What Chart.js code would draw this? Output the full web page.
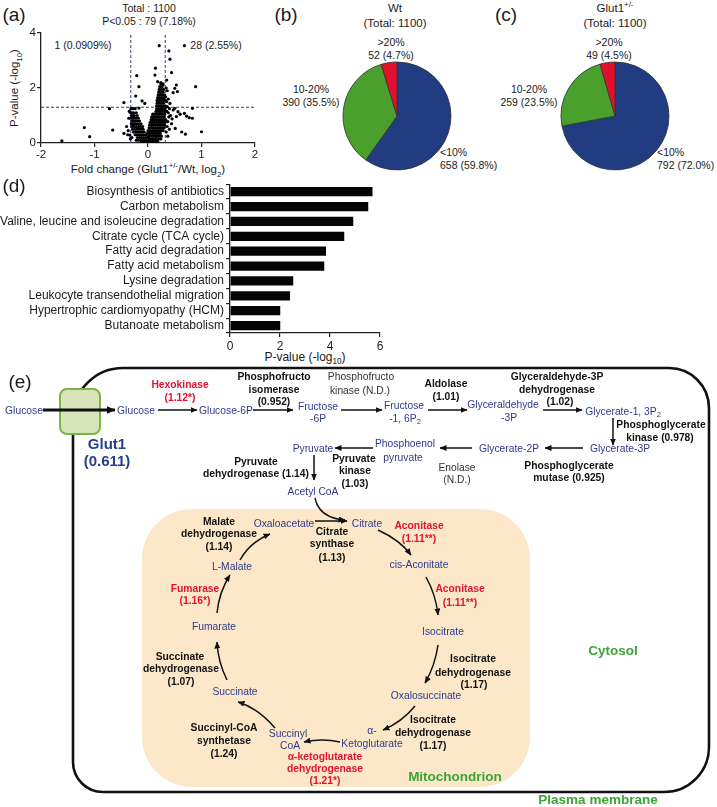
<!DOCTYPE html>
<html>
<head>
<meta charset="utf-8">
<title>Glut1 proteome</title>
<script src="https://cdn.jsdelivr.net/npm/chart.js@4.4.1/dist/chart.umd.min.js"></script>
<style>
  html,body{margin:0;padding:0;background:#fff}
  body{position:relative;width:717px;height:807px;overflow:hidden;font-family:'Liberation Sans',Arial,Helvetica,sans-serif;color:#1b1b1b}
  canvas{position:absolute}
  .t{position:absolute;white-space:nowrap;transform:translate(-50%,-50%);font-size:10.5px;line-height:1}
  .t.l{transform:translate(0,-50%)}
  .panel{font-size:19px}
  .ttl{font-size:11.5px}
  sub,sup{font-size:68%;line-height:0}
  #diagram{position:absolute;left:0;top:0}
  #diagram text{font-family:'Liberation Sans',Arial,Helvetica,sans-serif;font-size:10.3px;text-anchor:middle;dominant-baseline:central}
  #diagram .m{fill:#2e3a8f}
  #diagram .e{fill:#111;font-weight:bold}
  #diagram .r{fill:#e3132f;font-weight:bold}
  #diagram .n{fill:#333}
  #diagram .g{fill:#253f8e;font-weight:bold;font-size:15px}
  #diagram .c{fill:#3aa537;font-weight:bold;font-size:13.5px}
</style>
</head>
<body>
<!-- (a) volcano -->
<div class="t panel" style="left:14px;top:14px">(a)</div>
<div class="t" style="left:149px;top:8px">Total : 1100</div>
<div class="t" style="left:149px;top:21px">P&lt;0.05 : 79 (7.18%)</div>
<div class="t" style="left:83px;top:45px">1 (0.0909%)</div>
<div class="t" style="left:216px;top:45px">28 (2.55%)</div>
<div class="t ttl" style="left:15px;top:88px;transform:translate(-50%,-50%) rotate(-90deg)">P-value (-log<sub>10</sub>)</div>
<div class="t ttl" style="left:148px;top:170px">Fold change (Glut1<sup>+/-</sup>/Wt, log<sub>2</sub>)</div>
<canvas id="volcano" width="265" height="180" style="left:0;top:0"></canvas>

<!-- (b) (c) pies -->
<div class="t panel" style="left:286px;top:14px">(b)</div>
<div class="t ttl" style="left:395px;top:9px">Wt</div>
<div class="t ttl" style="left:395px;top:24px">(Total: 1100)</div>
<div class="t panel" style="left:506px;top:14px">(c)</div>
<div class="t ttl" style="left:615px;top:9px">Glut1<sup>+/-</sup></div>
<div class="t ttl" style="left:615px;top:24px">(Total: 1100)</div>
<div id="pieLabels"></div>
<canvas id="pieWt" width="112" height="112" style="left:341px;top:60px"></canvas>
<canvas id="pieGlut" width="112" height="112" style="left:559px;top:60px"></canvas>

<!-- (d) pathways -->
<div class="t panel" style="left:14px;top:185px">(d)</div>
<div class="t" style="left:305px;top:357px;font-size:12px">P-value (-log<sub>10</sub>)</div>
<canvas id="pathwayBar" width="390" height="192" style="left:0;top:175px"></canvas>

<!-- (e) pathway diagram -->
<svg id="diagram" width="717" height="807" viewBox="0 0 717 807">
  <defs>
    <marker id="ah" markerUnits="userSpaceOnUse" markerWidth="7" markerHeight="6" refX="6.5" refY="3" orient="auto"><path d="M0,0 L7,3 L0,6 z" fill="#111"/></marker>
    <marker id="ahBig" markerUnits="userSpaceOnUse" markerWidth="9" markerHeight="8" refX="8.5" refY="4" orient="auto"><path d="M0,0 L9,4 L0,8 z" fill="#111"/></marker>
  </defs>
  <text x="20" y="381" style="font-size:19px;text-anchor:middle;fill:#1b1b1b">(e)</text>
  <rect x="142" y="509" width="388" height="278" rx="50" fill="#fce8c9"/>
  <path d="M123 368 H669 A40 40 0 0 1 709 408 V747 A45 45 0 0 1 664 792 H103 A30 30 0 0 1 73 762 V418 A50 50 0 0 1 123 368 Z" fill="none" stroke="#111" stroke-width="2.6"/>
  <rect x="60" y="389" width="40" height="45" rx="7" fill="#d6e4b8" stroke="#7db24b" stroke-width="2"/>
  <path d="M43 410 H115" stroke="#111" stroke-width="3" fill="none" marker-end="url(#ahBig)"/>
  <g fill="none" stroke="#111" stroke-width="1.5" marker-end="url(#ah)">
    <path d="M158 410 H197"/>
    <path d="M253 410 H293"/>
    <path d="M341 410 H382"/>
    <path d="M428 410 H467"/>
    <path d="M543 410 H582"/>
    <path d="M613 418 V445"/>
    <path d="M583 448 H545"/>
    <path d="M472 448 H440"/>
    <path d="M373 448 H335"/>
    <path d="M314 455 V480"/>
    <path d="M315 498 Q319 518 345 520"/>
    <path d="M315 521 H347"/>
    <path d="M240 560 Q250 542 270 534"/>
    <path d="M217 613 Q219 592 230 575"/>
    <path d="M227 680 Q218 662 217 642"/>
    <path d="M275 728 Q258 708 238 702"/>
    <path d="M340 742 Q322 738 304 742"/>
    <path d="M415 706 Q402 722 383 730"/>
    <path d="M438 645 Q435 666 425 683"/>
    <path d="M378 530 Q400 540 411 555"/>
    <path d="M426 577 Q436 595 438 615"/>
  </g>
  <g id="diagramText"></g>
</svg>

<script>
const $ = id => document.getElementById(id);

// (a) volcano: [fold change log2, -log10 p]
const volcanoPoints = [
  [-1.61,0.08],[-1.19,0.56],[-1.09,0.23],[-0.66,0.47],[-0.72,1.25],[-0.45,1.47],[-0.21,2.45],[-0.17,2.05],[-0.23,1.71],
  [0.21,3.54],[0.68,3.54],[0.39,3.35],[0.41,3.05],[0.14,2.72],[0.44,2.56],[0.89,2.05],[0.53,2.11],[0.83,1.26],[0.83,0.9],
  [1.0,0.41],[0.68,1.08],[0.72,0.98],[0.77,0.92],[0.51,0.53],[0.63,0.4],[0.7,0.32],[0.53,0.96],[0.47,1.2],[0.56,1.14],
  [0.47,1.83],[0.5,1.99],[0.55,1.87],[0.35,2.29],[0.28,2.11],[0.33,1.68],[0.41,1.44],[-0.34,0.29],[-0.45,0.35],[-0.28,0.62],
  [-0.17,1.27],[-0.11,1.53],[-0.06,1.44],[0.13,2.47],[0.18,2.23],[0.24,2.2],
  [0.36,1.32],[0.4,1.25],[0.38,1.1],[0.42,1.0],[0.45,0.88],[0.37,0.78],[0.5,1.26],[0.6,1.05],[0.36,0.6],[0.4,0.5],
  [0.35,1.5],[0.38,1.6],[0.36,1.9],[0.34,2.0],[0.39,0.95],[0.44,0.7],[0.34,0.4],[0.37,0.25],
  [-0.36,0.9],[-0.38,0.3],[-0.4,0.6],[-0.35,1.15],[-0.37,0.45],[-0.3,0.2],[-0.33,0.15],
  [-0.32,1.25],[-0.28,1.25],[-0.24,1.25],
  [-0.33,1.1],[-0.3,1.1],[-0.27,1.1],[-0.22,1.1],
  [-0.31,1.0],[-0.28,1.0],[-0.25,1.0],[-0.2,1.0],
  [-0.32,0.9],[-0.29,0.9],[-0.26,0.9],[-0.22,0.9],[-0.18,0.9],
  [-0.3,0.8],[-0.27,0.8],[-0.24,0.8],[-0.2,0.8],[-0.16,0.8],
  [-0.31,0.7],[-0.28,0.7],[-0.25,0.7],[-0.21,0.7],[-0.17,0.7],[-0.13,0.7],
  [-0.3,0.6],[-0.26,0.6],[-0.22,0.6],[-0.18,0.6],[-0.14,0.6],[-0.1,0.6],
  [-0.29,0.5],[-0.25,0.5],[-0.21,0.5],[-0.17,0.5],[-0.13,0.5],[-0.09,0.5],
  [-0.27,0.4],[-0.23,0.4],[-0.19,0.4],[-0.15,0.4],[-0.11,0.4],[-0.07,0.4],
  [-0.24,0.3],[-0.2,0.3],[-0.16,0.3],[-0.12,0.3],[-0.08,0.3],[-0.04,0.3],
  [-0.2,0.2],[-0.16,0.2],[-0.12,0.2],[-0.08,0.2],[-0.04,0.2],[0,0.2],
  [-0.14,0.1],[-0.1,0.1],[-0.06,0.1],[-0.02,0.1],[0.02,0.1],[-0.18,0.1],[-0.22,0.1],
  [-0.08,0.03],[-0.04,0.03],[0,0.03],[0.04,0.03],[-0.12,0.03],[0.08,0.03],
  [0.06,0.06],[0.1,0.06],[0.14,0.06],[0.18,0.06],
  [0.04,0.15],[0.08,0.15],[0.12,0.15],[0.16,0.15],[0.2,0.15],[0.24,0.15],
  [0.01,0.25],[0.05,0.25],[0.09,0.25],[0.13,0.25],[0.17,0.25],[0.21,0.25],[0.25,0.25],
  [-0.01,0.35],[0.03,0.35],[0.07,0.35],[0.11,0.35],[0.15,0.35],[0.19,0.35],[0.23,0.35],
  [0.0,0.45],[0.04,0.45],[0.08,0.45],[0.12,0.45],[0.16,0.45],[0.2,0.45],[0.24,0.45],[0.28,0.45],
  [0.02,0.55],[0.06,0.55],[0.1,0.55],[0.14,0.55],[0.18,0.55],[0.22,0.55],[0.26,0.55],[0.3,0.55],
  [0.03,0.65],[0.07,0.65],[0.11,0.65],[0.15,0.65],[0.19,0.65],[0.23,0.65],[0.27,0.65],[0.31,0.65],
  [0.04,0.75],[0.08,0.75],[0.12,0.75],[0.16,0.75],[0.2,0.75],[0.24,0.75],[0.28,0.75],[0.32,0.75],
  [0.06,0.85],[0.09,0.85],[0.13,0.85],[0.17,0.85],[0.21,0.85],[0.25,0.85],[0.29,0.85],[0.33,0.85],
  [0.07,0.95],[0.1,0.95],[0.14,0.95],[0.18,0.95],[0.22,0.95],[0.26,0.95],[0.3,0.95],
  [0.09,1.05],[0.12,1.05],[0.15,1.05],[0.19,1.05],[0.23,1.05],[0.27,1.05],[0.31,1.05],
  [0.15,1.15],[0.19,1.15],[0.23,1.15],[0.27,1.15],[0.31,1.15],[0.35,1.15],
  [0.16,1.25],[0.2,1.25],[0.24,1.25],[0.28,1.25],[0.32,1.25],
  [0.16,1.35],[0.2,1.35],[0.24,1.35],[0.28,1.35],[0.32,1.35],
  [0.17,1.45],[0.21,1.45],[0.25,1.45],[0.29,1.45],
  [0.17,1.55],[0.21,1.55],[0.25,1.55],[0.29,1.55],[0.33,1.55],
  [0.18,1.65],[0.22,1.65],[0.26,1.65],[0.3,1.65],
  [0.19,1.75],[0.23,1.75],[0.27,1.75],[0.31,1.75],
  [0.2,1.85],[0.24,1.85],[0.28,1.85],
  [0.21,1.95],[0.25,1.95],[0.29,1.95],
  [0.22,2.05],[0.26,2.05],
  [0.24,2.15],[0.28,2.15]
];
const foldCutoff = 0.322;   // 1.25-fold
const pCutoff = 1.3;        // P = 0.05
const foldTicks = [-2, 2];
const pTicks = [0, 4];

// (b)(c) variation groups
const pieGroups = ['<10%', '10-20%', '>20%'];
const pieColors = ['#213c80', '#4aa02c', '#e2102e'];
const wtCounts = [658, 390, 52];
const glutCounts = [792, 259, 49];
const proteinTotal = 1100;

// (d) KEGG pathways
const pathways = ['Biosynthesis of antibiotics','Carbon metabolism','Valine, leucine and isoleucine degradation',
  'Citrate cycle (TCA cycle)','Fatty acid degradation','Fatty acid metabolism','Lysine degradation',
  'Leukocyte transendothelial migration','Hypertrophic cardiomyopathy (HCM)','Butanoate metabolism'];
const pathwayScores = [5.7, 5.53, 4.93, 4.57, 3.84, 3.77, 2.53, 2.4, 2.01, 2.01];

// (e) labels: [x, y, text, kind]
const diagramLabels = [
  [24,410,'Glucose','m'],[136,410,'Glucose','m'],[226,410,'Glucose-6P','m'],
  [318,406,'Fructose','m'],[318,418,'-6P','m'],
  [404,405,'Fructose','m'],[405,418,'-1, 6P<tspan font-size="7.5" dy="2.5">2</tspan>','m'],
  [503,404,'Glyceraldehyde','m'],[509,417,'-3P','m'],
  [623,411,'Glycerate-1, 3P<tspan font-size="7.5" dy="2.5">2</tspan>','m'],
  [620,448,'Glycerate-3P','m'],[509,448,'Glycerate-2P','m'],
  [405,443,'Phosphoenol','m'],[403,457,'pyruvate','m'],
  [313,448,'Pyruvate','m'],[313,491,'Acetyl CoA','m'],
  [284,523,'Oxaloacetate','m'],[367,523,'Citrate','m'],[232,566,'L-Malate','m'],
  [419,564,'cis-Aconitate','m'],[443,631,'Isocitrate','m'],[214,626,'Fumarate','m'],
  [426,695,'Oxalosuccinate','m'],[235,691,'Succinate','m'],
  [288,733,'Succinyl','m'],[290,745,'CoA','m'],[372,730,'α-','m'],[372,743,'Ketoglutarate','m'],
  [274,376,'Phosphofructo','e'],[274,389,'isomerase','e'],[274,401,'(0.952)','e'],
  [446,383,'Aldolase','e'],[446,396,'(1.01)','e'],
  [557,376,'Glyceraldehyde-3P','e'],[557,389,'dehydrogenase','e'],[560,401,'(1.02)','e'],
  [661,424,'Phosphoglycerate','e'],[660,437,'kinase (0.978)','e'],
  [569,465,'Phosphoglycerate','e'],[569,477,'mutase (0.925)','e'],
  [354,458,'Pyruvate','e'],[355,470,'kinase','e'],[355,483,'(1.03)','e'],
  [256,461,'Pyruvate','e'],[256,473,'dehydrogenase (1.14)','e'],
  [219,521,'Malate','e'],[219,533,'dehydrogenase','e'],[219,546,'(1.14)','e'],
  [332,531,'Citrate','e'],[332,543,'synthase','e'],[332,557,'(1.13)','e'],
  [180,656,'Succinate','e'],[181,668,'dehydrogenase','e'],[181,681,'(1.07)','e'],
  [224,727,'Succinyl-CoA','e'],[224,740,'synthetase','e'],[224,753,'(1.24)','e'],
  [473,658,'Isocitrate','e'],[473,672,'dehydrogenase','e'],[474,684,'(1.17)','e'],
  [433,719,'Isocitrate','e'],[433,732,'dehydrogenase','e'],[433,745,'(1.17)','e'],
  [180,384,'Hexokinase','r'],[180,397,'(1.12*)','r'],
  [419,525,'Aconitase','r'],[419,538,'(1.11**)','r'],
  [460,588,'Aconitase','r'],[460,602,'(1.11**)','r'],
  [195,588,'Fumarase','r'],[195,600,'(1.16*)','r'],
  [325,756,'α-ketoglutarate','r'],[325,768,'dehydrogenase','r'],[325,780,'(1.21*)','r'],
  [361,376,'Phosphofructo','n'],[360,390,'kinase (N.D.)','n'],
  [457,467,'Enolase','n'],[457,479,'(N.D.)','n'],
  [107,443,'Glut1','g'],[107,460,'(0.611)','g'],
  [613,650,'Cytosol','c'],[455,776,'Mitochondrion','c'],[598,799,'Plasma membrane','c']
];

Chart.defaults.font.family = "'Liberation Sans', Arial, Helvetica, sans-serif";
Chart.defaults.color = '#1b1b1b';

const axisGrid = {drawOnChartArea:false, drawTicks:true, tickLength:4, color:'#222', lineWidth:1.2};
const axisBorder = {color:'#222', width:1.3};
const dash = {type:'line', showLine:true, pointRadius:0, borderColor:'#2e3a8f', borderWidth:1, borderDash:[3,2], order:2};

new Chart($('volcano'), {
  type:'scatter',
  data:{datasets:[
    {data:volcanoPoints.map(([x, y]) => ({x, y})), pointRadius:1.6, pointBorderWidth:0, pointBackgroundColor:'#000', order:0},
    {...dash, data:[{x:-foldCutoff, y:pTicks[0]}, {x:-foldCutoff, y:pTicks[1]}]},
    {...dash, data:[{x:foldCutoff, y:pTicks[0]}, {x:foldCutoff, y:pTicks[1]}]},
    {...dash, data:[{x:foldTicks[0], y:pCutoff}, {x:foldTicks[1], y:pCutoff}]}
  ]},
  options:{
    responsive:false, animation:false,
    layout:{padding:{top:33, right:10, left:0, bottom:0}},
    plugins:{legend:{display:false}, tooltip:{enabled:false}},
    scales:{
      x:{type:'linear', min:foldTicks[0], max:foldTicks[1], ticks:{stepSize:1, padding:1, font:{size:11.5}},
         grid:axisGrid, border:axisBorder, afterFit:s => { s.height = 37; }},
      y:{min:pTicks[0], max:pTicks[1], ticks:{stepSize:2, padding:1, font:{size:11.5}},
         grid:axisGrid, border:axisBorder, afterFit:s => { s.width = 41; }}
    }
  }
});

function pie(id, counts) {
  new Chart($(id), {
    type:'pie',
    data:{labels:pieGroups, datasets:[{data:counts, backgroundColor:pieColors, borderColor:'#333', borderWidth:0.8, hoverOffset:0}]},
    options:{responsive:false, animation:false, radius:54,
      plugins:{legend:{display:false}, tooltip:{enabled:false}}}
  });
}
pie('pieWt', wtCounts);
pie('pieGlut', glutCounts);

// pie labels: [x, y, left-aligned?] for <10%, 10-20%, >20%
const pieLabelSpots = {pieWt:[[440,152,true],[311,89,false],[391,42,false]], pieGlut:[[657,152,true],[529,89,false],[609,42,false]]};
const pct = n => `${n} (${(n / proteinTotal * 100).toFixed(1)}%)`;
[['pieWt', wtCounts], ['pieGlut', glutCounts]].forEach(([id, counts]) => {
  pieLabelSpots[id].forEach(([x, y, left], i) => {
    [pieGroups[i], pct(counts[i])].forEach((txt, k) => {
      const d = document.createElement('div');
      d.className = left ? 't l' : 't';
      d.style.left = x + 'px';
      d.style.top = (y + k * 12.5) + 'px';
      d.textContent = txt;
      $('pieLabels').appendChild(d);
    });
  });
});

new Chart($('pathwayBar'), {
  type:'bar',
  data:{labels:pathways, datasets:[{data:pathwayScores, backgroundColor:'#050505', barPercentage:0.62, categoryPercentage:1}]},
  options:{
    indexAxis:'y', responsive:false, animation:false,
    layout:{padding:{top:7, right:10, left:0, bottom:0}},
    plugins:{legend:{display:false}, tooltip:{enabled:false}},
    scales:{
      x:{min:0, max:6, ticks:{stepSize:2, padding:2, font:{size:12}}, grid:axisGrid, border:axisBorder,
         afterFit:s => { s.height = 34; }},
      y:{ticks:{autoSkip:false, padding:2, font:{size:12}}, grid:axisGrid, border:axisBorder,
         afterFit:s => { s.width = 230; }}
    }
  }
});

$('diagramText').innerHTML = diagramLabels
  .map(([x, y, txt, kind]) => `<text x="${x}" y="${y}" class="${kind}">${txt}</text>`).join('');
</script>
</body>
</html>
